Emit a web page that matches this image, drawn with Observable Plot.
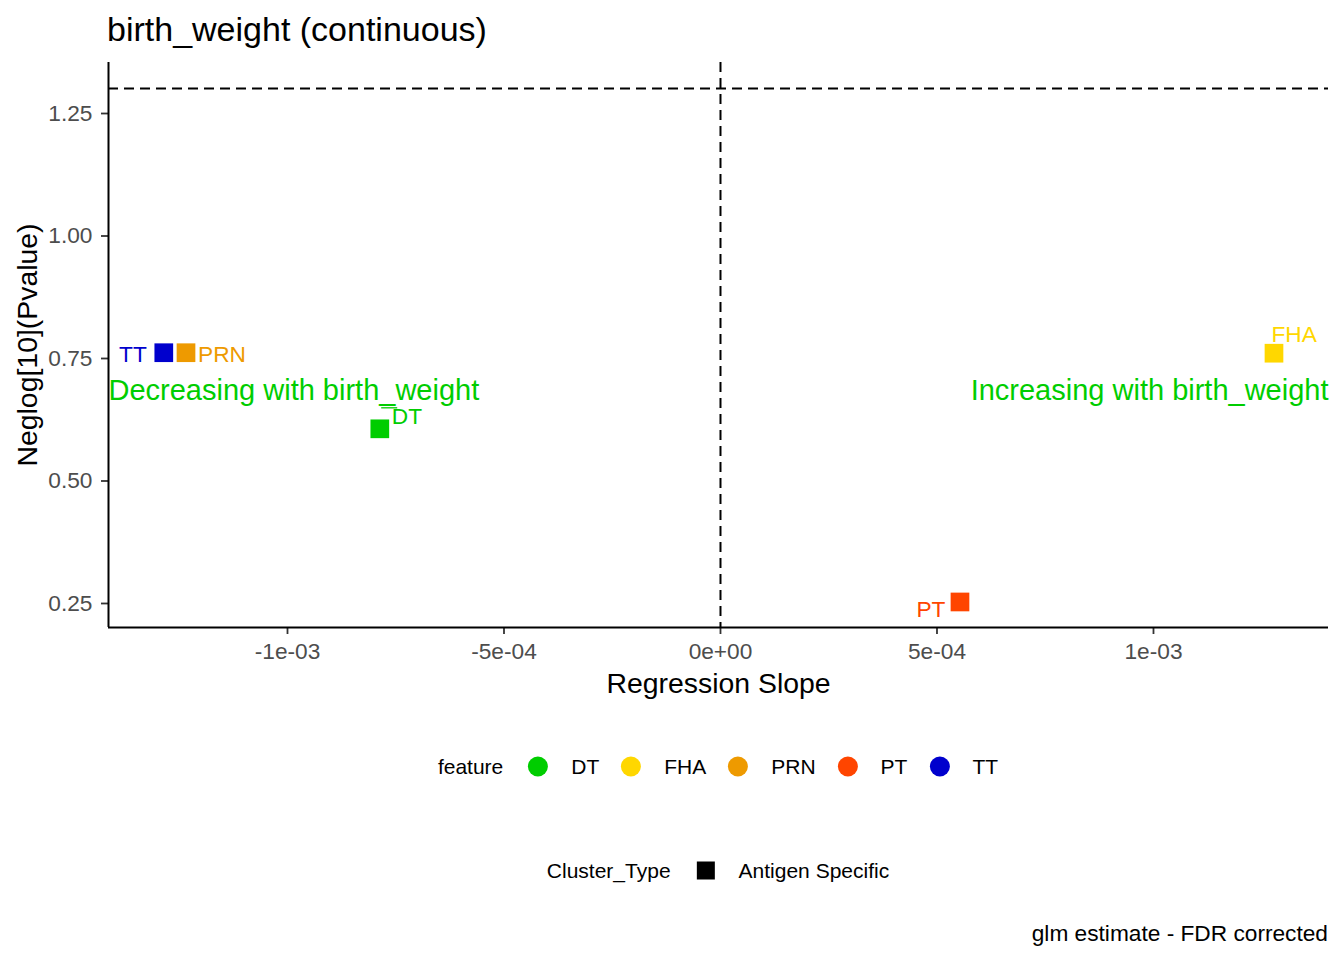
<!DOCTYPE html>
<html>
<head>
<meta charset="utf-8">
<script src="https://cdn.jsdelivr.net/npm/d3@7"></script>
<script src="https://cdn.jsdelivr.net/npm/@observablehq/plot@0.6"></script>
<style>
  body { margin: 0; background: #ffffff; font-family: "Liberation Sans", Arial, sans-serif; }
  #wrap { position: relative; width: 1344px; height: 960px; overflow: hidden; background: #fff; }
  #title { position: absolute; left: 107px; top: 12px; font-size: 34px; line-height: 34px; color: #000; white-space: nowrap; }
  #chart { position: absolute; left: 0; top: 50px; }
  .legend-row { position: absolute; left: 718px; transform: translate(-50%, -50%); display: flex; align-items: center;
                font-size: 21px; line-height: 21px; color: #000; white-space: nowrap; }
  .legend-row .ltitle { margin-right: 25px; }
  .legend-row .circle { width: 20px; height: 20px; border-radius: 50%; margin-right: 23px; }
  .legend-row .lab { margin-right: 22px; }
  .legend-row .lab:last-child { margin-right: 0; }
  .legend-row .square { width: 18px; height: 18px; background: #000; margin-right: 24px; }
  #legend-feature { top: 766px; }
  #legend-cluster { top: 870px; }
  #caption { position: absolute; right: 16px; top: 933px; transform: translateY(-50%); font-size: 22.7px; line-height: 22.7px; color: #000; white-space: nowrap; }
</style>
</head>
<body>
<div id="wrap">
  <div id="title"></div>
  <div id="chart"></div>
  <div id="legend-feature" class="legend-row"></div>
  <div id="legend-cluster" class="legend-row"></div>
  <div id="caption"></div>
</div>
<script>
// ---------------- data ----------------
const titleText = "birth_weight (continuous)";
const captionText = "glm estimate - FDR corrected";
const xLabel = "Regression Slope";
const yLabel = "Neglog[10](Pvalue)";
const features = ["DT", "FHA", "PRN", "PT", "TT"];
const slopes = [-7.868e-4, 1.2783e-3, -1.2344e-3, 5.531e-4, -1.2857e-3];
const negLogP = [0.6065, 0.7608, 0.7618, 0.2531, 0.7618];
const featureColors = ["#00CD00", "#FFD700", "#EE9A00", "#FF4500", "#0000CD"];
const clusterTypes = ["Antigen Specific"];
const xTicks = [-1e-3, -5e-4, 0, 5e-4, 1e-3];
const xTickLabels = ["-1e-03", "-5e-04", "0e+00", "5e-04", "1e-03"];
const yTicks = [0.25, 0.5, 0.75, 1.0, 1.25];
const yTickLabels = ["0.25", "0.50", "0.75", "1.00", "1.25"];
const sigThreshold = 1.30103; // -log10(0.05)
const xDomain = [-1.4134e-3, 1.4042e-3];
const yDomain = [0.2010, 1.3541];
const annotY = 0.6833;
const annotations = ["Decreasing with birth_weight", "Increasing with birth_weight"];
const annotColor = "#00CD00";

// ---------------- build ----------------
const rows = features.map((f, i) => ({feature: f, slope: slopes[i], nlp: negLogP[i]}));

// repel-like label placement (pixel offsets)
const labelPlacement = {
  TT:  {dx: -17,  dy: 2,     anchor: "end"},
  PRN: {dx: 12,   dy: 2,     anchor: "start"},
  DT:  {dx: 12,   dy: -11.6, anchor: "start"},
  FHA: {dx: -2.5, dy: -18.3, anchor: "start"},
  PT:  {dx: -14.5, dy: 8,    anchor: "end"}
};

const segmentSymbol = {
  draw(ctx) { ctx.moveTo(-8, 0); ctx.lineTo(8, 0); }
};

const tickFmt = (ticks, labels) => d => labels[ticks.indexOf(d)];

const annotRows = [
  {t: annotations[0], x: xDomain[0], y: annotY},
  {t: annotations[1], x: xDomain[1], y: annotY}
];

const chart = Plot.plot({
  width: 1344,
  height: 670,
  marginTop: 12,
  marginBottom: 93,
  marginLeft: 108,
  marginRight: 16,
  style: {fontFamily: "'Liberation Sans', Arial, sans-serif", fontSize: "22.7px", background: "white", overflow: "visible"},
  x: {domain: xDomain},
  y: {domain: yDomain},
  color: {domain: features, range: featureColors},
  marks: [
    Plot.ruleY([sigThreshold], {stroke: "black", strokeWidth: 2, strokeDasharray: "10,6"}),
    Plot.ruleX([0], {stroke: "black", strokeWidth: 2, strokeDasharray: "10,6"}),
    Plot.axisX({ticks: xTicks, tickFormat: tickFmt(xTicks, xTickLabels), tickSize: 7, tickPadding: 8,
                stroke: "#333333", strokeWidth: 1.8, fill: "#4d4d4d", fontSize: 22.7, label: null}),
    Plot.axisY({ticks: yTicks, tickFormat: tickFmt(yTicks, yTickLabels), tickSize: 7, tickPadding: 9,
                stroke: "#333333", strokeWidth: 1.8, fill: "#4d4d4d", fontSize: 22.7, label: null}),
    Plot.ruleY([yDomain[0]], {stroke: "black", strokeWidth: 2}),
    Plot.ruleX([xDomain[0]], {stroke: "black", strokeWidth: 2}),
    Plot.text([xLabel], {frameAnchor: "bottom", dy: 56, lineAnchor: "middle", fontSize: 28.4, fill: "black"}),
    Plot.text([yLabel], {frameAnchor: "left", dx: -80.3, rotate: -90, lineAnchor: "middle", textAnchor: "middle", fontSize: 28.4, fill: "black"}),
    Plot.text(annotRows.slice(0, 1), {x: "x", y: "y", text: "t", textAnchor: "start", fontSize: 29, fill: annotColor, lineAnchor: "middle"}),
    Plot.text(annotRows.slice(1), {x: "x", y: "y", text: "t", textAnchor: "end", fontSize: 29, fill: annotColor, lineAnchor: "middle"}),
    Plot.dot(rows.filter(d => d.feature === "DT"), {x: "slope", y: "nlp", symbol: segmentSymbol, r: 8, fill: "none", stroke: "feature", strokeWidth: 1.3, dx: 9.4, dy: -21}),
    Plot.dot(rows, {x: "slope", y: "nlp", fill: "feature", symbol: "square", r: 10.55, stroke: "none"}),
    ...features.map(f => {
      const p = labelPlacement[f];
      return Plot.text(rows.filter(d => d.feature === f), {
        x: "slope", y: "nlp", text: "feature", fill: "feature", fontSize: 22.7,
        dx: p.dx, dy: p.dy, textAnchor: p.anchor, lineAnchor: "middle"
      });
    })
  ]
});
document.getElementById("chart").appendChild(chart);
document.getElementById("title").textContent = titleText;
document.getElementById("caption").textContent = captionText;

// legends
const lf = document.getElementById("legend-feature");
const t1 = document.createElement("span"); t1.className = "ltitle"; t1.textContent = "feature"; lf.appendChild(t1);
features.forEach((f, i) => {
  const c = document.createElement("span"); c.className = "circle"; c.style.background = featureColors[i]; lf.appendChild(c);
  const l = document.createElement("span"); l.className = "lab"; l.textContent = f; lf.appendChild(l);
});
const lc = document.getElementById("legend-cluster");
const t2 = document.createElement("span"); t2.className = "ltitle"; t2.style.marginRight = "26px"; t2.textContent = "Cluster_Type"; lc.appendChild(t2);
clusterTypes.forEach(ct => {
  const s = document.createElement("span"); s.className = "square"; lc.appendChild(s);
  const l = document.createElement("span"); l.className = "lab"; l.textContent = ct; lc.appendChild(l);
});
</script>
</body>
</html>
